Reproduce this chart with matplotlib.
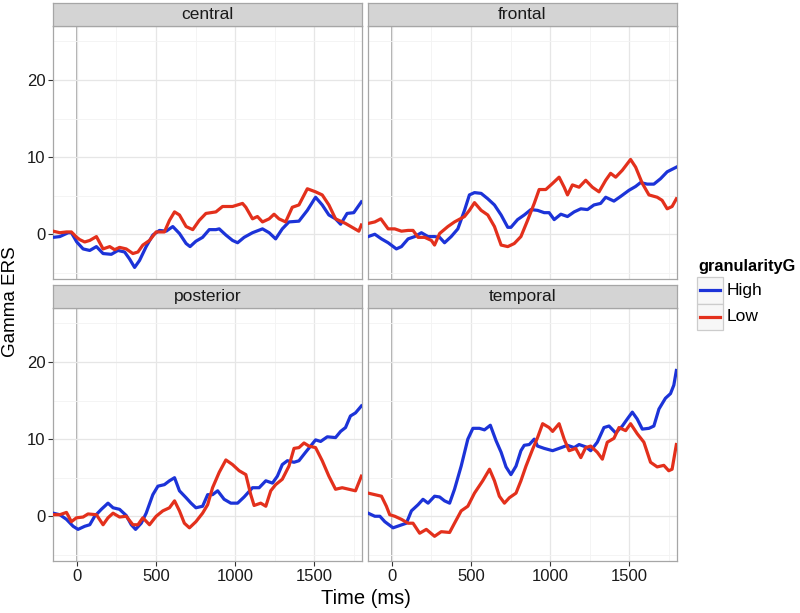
import matplotlib
matplotlib.use("Agg")
import matplotlib.pyplot as plt
from matplotlib.lines import Line2D
from matplotlib.patches import Rectangle
from matplotlib.ticker import MultipleLocator

plt.rcParams['font.family'] = ['Liberation Sans', 'DejaVu Sans']

# ── data (time in ms, Gamma ERS) ──────────────────────────────────────────
central_high_t = [-149, -107, -54, -34, 0, 40, 82, 124, 166, 218, 260, 302, 333, 365, 396,
                  438, 480, 522, 564, 606, 648, 690, 715, 752, 794, 836, 878, 899, 941, 983,
                  1015, 1056, 1109, 1172, 1214, 1255, 1297, 1339, 1402, 1455, 1507, 1549,
                  1591, 1633, 1665, 1706, 1748, 1796]
central_high_v = [-0.4, -0.3, 0.2, 0.2, -1.0, -1.9, -2.1, -1.6, -2.5, -2.6, -2.1, -2.3, -3.2,
                  -4.3, -3.4, -1.6, -0.1, 0.5, 0.4, 1.0, 0.1, -1.2, -1.6, -0.9, -0.4, 0.6,
                  0.6, 0.7, -0.1, -0.8, -1.1, -0.4, 0.2, 0.7, 0.2, -0.6, 0.7, 1.6, 1.7, 3.1,
                  4.8, 3.8, 2.5, 2.0, 1.3, 2.7, 2.8, 4.2]
central_low_t = [-149, -107, -65, -34, 0, 19, 50, 82, 124, 166, 208, 239, 270, 312, 354, 386,
                 417, 459, 501, 553, 585, 617, 648, 690, 732, 773, 815, 878, 920, 983, 1046,
                 1067, 1109, 1140, 1172, 1214, 1245, 1276, 1318, 1360, 1402, 1455, 1507, 1549,
                 1591, 1633, 1696, 1780, 1796]
central_low_v = [0.4, 0.2, 0.3, 0.3, -0.4, -0.7, -1.0, -0.8, -0.3, -1.9, -1.6, -2.0, -1.7,
                 -1.9, -2.5, -2.3, -1.4, -0.8, 0.3, 0.3, 1.8, 2.9, 2.5, 1.0, 0.6, 1.8, 2.7,
                 2.9, 3.6, 3.6, 4.0, 3.5, 2.0, 2.3, 1.6, 2.0, 2.6, 2.0, 1.6, 3.5, 3.8, 5.9,
                 5.5, 5.1, 3.8, 2.0, 1.4, 0.4, 1.2]

frontal_high_t = [-149, -107, -65, -23, 29, 61, 103, 145, 187, 229, 270, 302, 333, 375, 417,
                  459, 490, 522, 564, 606, 648, 690, 732, 752, 794, 836, 878, 920, 962, 993,
                  1025, 1067, 1109, 1151, 1193, 1235, 1276, 1318, 1350, 1402, 1444, 1497,
                  1539, 1570, 1612, 1654, 1696, 1738, 1796]
frontal_high_v = [-0.3, 0.0, -0.6, -1.1, -1.9, -1.6, -0.6, -0.3, 0.2, -0.3, -0.3, -0.4, -1.1,
                  -0.3, 0.7, 3.1, 5.1, 5.4, 5.3, 4.6, 3.8, 2.5, 0.9, 0.9, 1.9, 2.5, 3.2, 3.1,
                  2.8, 2.8, 1.9, 2.6, 2.3, 2.9, 3.3, 3.2, 3.8, 4.0, 4.8, 4.3, 4.9, 5.7, 6.2,
                  6.7, 6.5, 6.5, 7.2, 8.1, 8.7]
frontal_low_t = [-149, -107, -69, -23, 19, 61, 103, 134, 166, 208, 250, 270, 302, 354, 396,
                 459, 490, 522, 564, 606, 648, 690, 732, 773, 815, 857, 899, 930, 972, 1015,
                 1056, 1088, 1109, 1140, 1182, 1224, 1266, 1308, 1350, 1381, 1413, 1455, 1507,
                 1539, 1581, 1623, 1675, 1706, 1738, 1769, 1796]
frontal_low_v = [1.4, 1.6, 2.0, 0.7, 0.7, 0.4, 0.5, 0.5, -0.4, -0.4, -0.8, -1.4, 0.1, 1.0,
                 1.6, 2.3, 3.1, 4.1, 3.1, 2.5, 1.0, -1.4, -1.6, -1.2, -0.3, 1.8, 4.0, 5.8,
                 5.8, 6.6, 7.4, 6.1, 5.1, 6.4, 6.1, 7.0, 6.1, 5.5, 7.0, 7.9, 7.4, 8.3, 9.7,
                 8.7, 6.6, 5.1, 4.8, 4.4, 3.3, 3.6, 4.6]

posterior_high_t = [-149, -107, -65, -23, 8, 50, 82, 113, 155, 197, 229, 270, 312, 344, 371,
                    407, 438, 480, 512, 553, 585, 617, 648, 690, 721, 752, 794, 826, 857, 889,
                    930, 972, 1015, 1056, 1109, 1151, 1193, 1235, 1266, 1297, 1329, 1371, 1402,
                    1444, 1507, 1539, 1581, 1633, 1665, 1696, 1727, 1759, 1796]
posterior_high_v = [0.4, 0.2, -0.4, -1.3, -1.7, -1.3, -1.1, 0.0, 0.9, 1.7, 1.1, 0.9, 0.1,
                    -1.1, -1.7, -0.9, 0.4, 2.8, 3.9, 4.1, 4.6, 5.0, 3.3, 2.4, 1.7, 1.1, 1.3,
                    2.8, 2.8, 3.3, 2.2, 1.7, 1.7, 2.5, 3.7, 3.7, 4.6, 4.3, 5.2, 6.7, 7.2, 7.0,
                    7.2, 8.3, 9.9, 9.7, 10.3, 10.2, 11.0, 11.5, 13.0, 13.4, 14.3]
posterior_low_t = [-149, -107, -65, -34, -2, 40, 71, 124, 166, 197, 229, 270, 312, 354, 386,
                   417, 459, 501, 543, 585, 617, 648, 679, 711, 752, 794, 826, 857, 899, 941,
                   983, 1025, 1067, 1098, 1119, 1161, 1193, 1224, 1255, 1297, 1339, 1371,
                   1402, 1434, 1465, 1507, 1549, 1591, 1633, 1675, 1717, 1759, 1796]
posterior_low_v = [0.2, 0.2, 0.5, -0.7, -0.2, -0.1, 0.3, 0.2, -1.1, -0.2, 0.4, -0.1, 0.0,
                   -1.1, -1.1, -0.2, -1.1, 0.0, 0.7, 1.1, 2.0, 0.7, -0.9, -1.5, -0.7, 0.4,
                   1.5, 3.7, 5.7, 7.3, 6.7, 5.9, 5.4, 2.8, 1.4, 1.7, 1.3, 3.3, 4.1, 4.8, 6.5,
                   8.8, 8.9, 9.5, 9.1, 8.9, 7.2, 5.2, 3.5, 3.7, 3.5, 3.3, 5.2]

temporal_high_t = [-149, -107, -75, -44, 8, 50, 92, 124, 166, 197, 229, 270, 302, 333, 365,
                   396, 438, 480, 512, 553, 585, 622, 658, 690, 721, 752, 784, 815, 836, 868,
                   899, 920, 962, 1015, 1056, 1109, 1151, 1182, 1224, 1255, 1297, 1339, 1371,
                   1413, 1455, 1486, 1518, 1549, 1581, 1623, 1654, 1686, 1727, 1759, 1780, 1796]
temporal_high_v = [0.4, 0.0, 0.0, -0.7, -1.5, -1.2, -0.9, 0.7, 1.5, 2.2, 1.7, 2.6, 2.5, 2.0,
                   1.7, 3.5, 6.5, 10.0, 11.4, 11.4, 11.2, 11.8, 9.8, 8.3, 6.4, 5.4, 6.5, 8.5,
                   9.2, 9.3, 10.0, 9.1, 8.8, 8.5, 8.8, 9.2, 8.9, 9.3, 9.0, 8.5, 9.6, 11.5,
                   11.7, 10.8, 11.7, 12.6, 13.5, 12.6, 11.3, 11.4, 11.7, 13.9, 15.3, 15.9,
                   17.0, 18.9]
temporal_low_t = [-149, -107, -65, -34, -13, 19, 61, 103, 134, 176, 218, 270, 312, 365, 396,
                  438, 480, 522, 574, 617, 648, 679, 711, 742, 784, 815, 847, 889, 920, 952,
                  993, 1015, 1056, 1088, 1119, 1161, 1193, 1224, 1255, 1297, 1329, 1360, 1402,
                  1434, 1476, 1507, 1549, 1591, 1633, 1675, 1717, 1748, 1769, 1796]
temporal_low_v = [3.0, 2.8, 2.6, 1.3, 0.2, 0.0, -0.4, -0.9, -0.9, -2.2, -1.7, -2.6, -2.0,
                  -2.1, -0.9, 0.7, 1.3, 3.0, 4.6, 6.1, 4.6, 2.6, 1.7, 2.4, 3.0, 4.6, 6.5, 8.7,
                  10.2, 12.0, 11.5, 11.0, 12.0, 10.0, 8.5, 8.8, 7.6, 8.9, 9.1, 8.3, 7.4, 9.6,
                  10.1, 11.5, 11.1, 12.0, 10.7, 9.6, 7.0, 6.4, 6.6, 5.9, 6.1, 9.3]

panels = ['central', 'frontal', 'posterior', 'temporal']
series = {
    'central':   (central_high_t, central_high_v, central_low_t, central_low_v),
    'frontal':   (frontal_high_t, frontal_high_v, frontal_low_t, frontal_low_v),
    'posterior': (posterior_high_t, posterior_high_v, posterior_low_t, posterior_low_v),
    'temporal':  (temporal_high_t, temporal_high_v, temporal_low_t, temporal_low_v),
}
groups = ['High', 'Low']
x_ticks = [0, 500, 1000, 1500]
y_ticks = [0, 10, 20]

HIGH_COL = '#1c33d8'
LOW_COL = '#e3301c'
BORDER = '#a6a6a6'
LW = 2.3

fig = plt.figure(figsize=(8, 6.13), dpi=100)

W, H = 800, 613
lefts = [53, 368]
bottoms = [279, 561]   # pixel y of panel bottoms (top row, bottom row)
pw, ph, sh = 309, 253, 23

for i, name in enumerate(panels):
    col, row = i % 2, i // 2
    x0 = lefts[col] / W
    y0 = (H - bottoms[row]) / H
    ax = fig.add_axes([x0, y0, pw / W, ph / H])
    ht, hv, lt, lv = series[name]

    ax.set_xlim(-150, 1800)
    ax.set_ylim(-5.8, 27)
    ax.xaxis.set_major_locator(MultipleLocator(500))
    ax.xaxis.set_minor_locator(MultipleLocator(250))
    ax.yaxis.set_major_locator(MultipleLocator(10))
    ax.yaxis.set_minor_locator(MultipleLocator(5))
    ax.grid(True, which='major', color='#e6e6e6', lw=0.9, zorder=0)
    ax.grid(True, which='minor', color='#f3f3f3', lw=0.6, zorder=0)
    ax.axvline(0, color='#a8a8a8', lw=1.3, zorder=1)

    ax.plot(ht, hv, color=HIGH_COL, lw=LW, zorder=3)
    ax.plot(lt, lv, color=LOW_COL, lw=LW, zorder=3)

    for s in ax.spines.values():
        s.set_color(BORDER)
        s.set_linewidth(0.9)
    ax.set_xticks(x_ticks)
    ax.set_yticks(y_ticks)
    ax.tick_params(which='minor', length=0)
    ax.tick_params(which='major', length=3.5, width=0.8, color='#333333',
                   labelsize=12, labelcolor='#1a1a1a', pad=2)
    if row == 0:
        ax.tick_params(axis='x', which='major', length=0, labelbottom=False)
    if col == 1:
        ax.tick_params(axis='y', which='major', length=0, labelleft=False)

    # facet strip
    sax = fig.add_axes([x0, y0 + ph / H, pw / W, sh / H])
    sax.set_facecolor('#d4d4d4')
    sax.set_xticks([])
    sax.set_yticks([])
    for s in sax.spines.values():
        s.set_color(BORDER)
        s.set_linewidth(0.9)
    sax.text(0.5, 0.48, name, ha='center', va='center', fontsize=12.5, color='#1a1a1a',
             transform=sax.transAxes)

fig.text(366 / W, 1 - 599 / H, 'Time (ms)', ha='center', va='center', fontsize=14.5)
fig.text(11 / W, 1 - 302 / H, 'Gamma ERS', ha='center', va='center', fontsize=13.5,
         rotation=90)

# legend, ggplot style (keys in boxes)
fig.text(698 / W, 1 - 267 / H, 'granularityG', ha='left', va='center', fontsize=11.8,
         fontweight='bold')
for k, (lab, c) in enumerate(zip(groups, [HIGH_COL, LOW_COL])):
    top = 277 + k * 26.5
    fig.patches.append(Rectangle((697 / W, 1 - (top + 26.5) / H), 26 / W, 26.5 / H,
                                 transform=fig.transFigure, facecolor='#f7f7f7',
                                 edgecolor='#cccccc', lw=0.9))
    yc = 1 - (top + 13.3) / H
    fig.lines.append(Line2D([700 / W, 720 / W], [yc, yc], transform=fig.transFigure,
                            color=c, lw=LW))
    fig.text(727 / W, yc, lab, ha='left', va='center', fontsize=12.5)

fig.savefig('out.png', dpi=100)
